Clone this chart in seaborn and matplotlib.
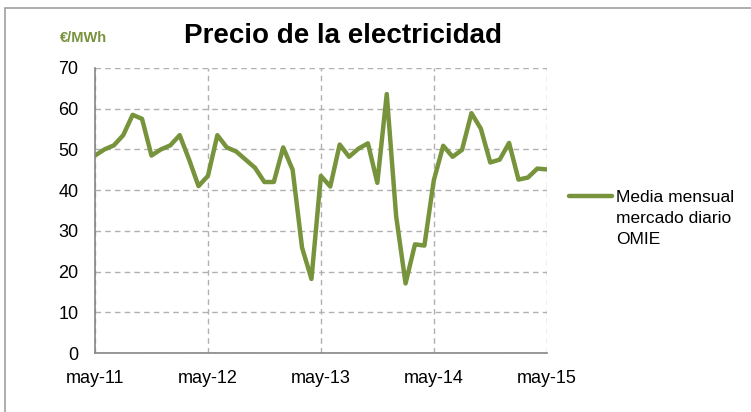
"""Precio de la electricidad: media mensual del mercado diario OMIE."""
import matplotlib.pyplot as plt
import matplotlib.patches as mpatches
from matplotlib.lines import Line2D
import pandas as pd
import seaborn as sns

# valores mensuales desde may-11 hasta may-15 (EUR/MWh)
precios = [48.5, 50.0, 51.0, 53.5, 58.5, 57.5, 48.5, 50.0, 51.0, 53.5,
           47.5, 41.0, 43.5, 53.5, 50.5, 49.5, 47.5, 45.5, 42.0, 42.0,
           50.5, 45.0, 25.9, 18.2, 43.5, 40.9, 51.2, 48.2, 50.2, 51.5,
           41.8, 63.6, 33.6, 17.1, 26.7, 26.4, 42.4, 50.9, 48.2, 49.9,
           58.9, 55.1, 46.8, 47.5, 51.6, 42.6, 43.1, 45.3, 45.1]
etiquetas_x = ['may-11', 'may-12', 'may-13', 'may-14', 'may-15']
serie = 'Media mensual\nmercado diario\nOMIE'
verde = '#77933C'

df = pd.DataFrame({'mes': range(len(precios)), 'precio': precios})

sns.set_style('white')
plt.rcParams['font.family'] = ['Liberation Sans', 'DejaVu Sans']
plt.rcParams['text.color'] = 'black'

fig = plt.figure(figsize=(7.51, 4.12), dpi=100)
ax = fig.add_axes([0.1265, 0.143, 0.6015, 0.692])

# marco exterior del gráfico (solo se ven el borde izquierdo y el superior)
fig.patches.append(mpatches.Rectangle((0.0067, -0.1), 1.2, 1.0806,
                                      transform=fig.transFigure, fill=False,
                                      edgecolor='#a0a0a0', linewidth=1.2))

sns.lineplot(data=df, x='mes', y='precio', ax=ax, color=verde,
             linewidth=3.2, legend=False)

ax.set_xlim(0, 48)
ax.set_ylim(0, 70)
ax.set_xticks([0, 12, 24, 36, 48])
ax.set_xticklabels(etiquetas_x)
ax.set_xticks(range(0, 49, 3), minor=True)
ax.set_yticks(range(0, 71, 10))
ax.set_xlabel('')
ax.set_ylabel('')

# rejilla punteada
ax.grid(True, which='major', color='#b0b0b0', linestyle=(0, (4, 3)),
        linewidth=1.0)
ax.set_axisbelow(True)
for lado in ['top', 'right']:
    ax.spines[lado].set_visible(False)
for lado in ['left', 'bottom']:
    ax.spines[lado].set_color('#868686')
    ax.spines[lado].set_linewidth(1.2)

ax.tick_params(axis='both', which='both', direction='out', colors='#868686',
               labelcolor='black', labelsize=13)
ax.tick_params(axis='x', which='both', length=3, width=1, pad=9)
ax.tick_params(axis='y', which='major', length=5, width=1, pad=7)

# leyenda a mano: línea alineada con la primera fila del texto
fig.add_artist(Line2D([0.758, 0.815], [0.524, 0.524], color=verde,
                      linewidth=3.2, transform=fig.transFigure))
fig.text(0.82, 0.539, serie, ha='left', va='top', fontsize=12.5,
         linespacing=1.5, transform=fig.transFigure)

fig.text(0.457, 0.913, 'Precio de la electricidad', ha='center',
         va='center', fontsize=20, fontweight='bold', color='black')
fig.text(0.08, 0.908, '€/MWh', ha='left', va='center', fontsize=10.5,
         fontweight='bold', color=verde)

fig.savefig('out.png', dpi=100)
